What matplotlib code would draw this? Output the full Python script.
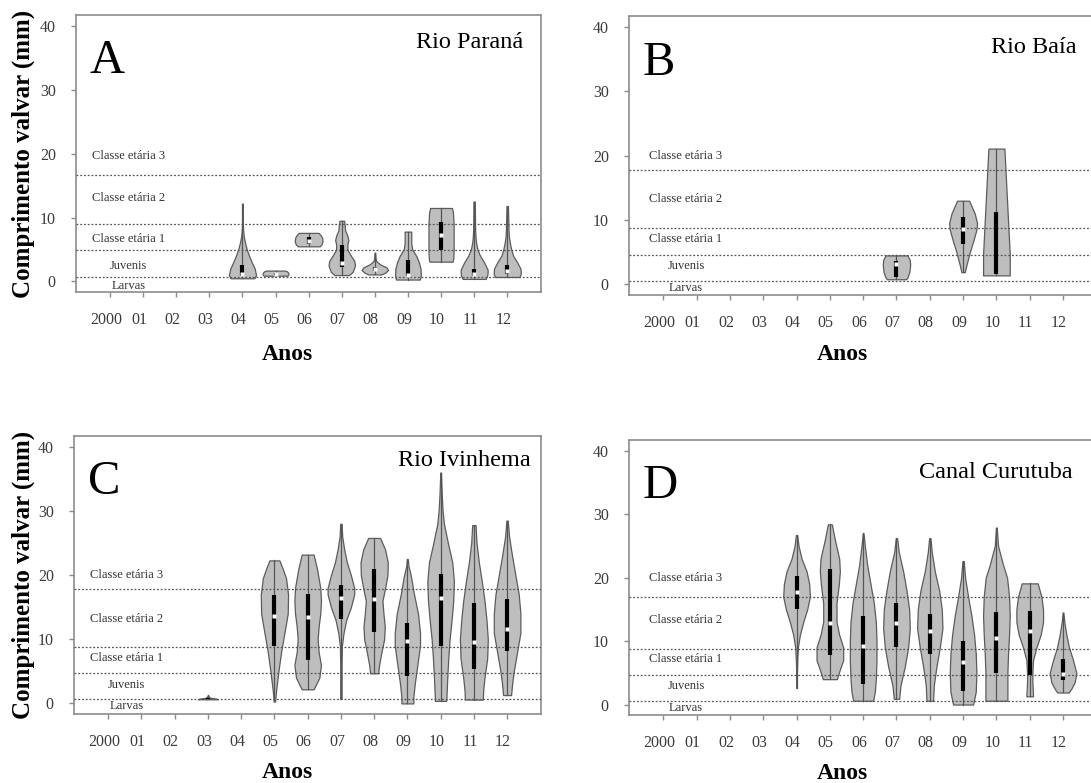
import numpy as np
import matplotlib
matplotlib.use('Agg')
import matplotlib.pyplot as plt
from matplotlib.transforms import ScaledTranslation

plt.rcParams['font.family'] = ['Liberation Serif', 'DejaVu Serif']

# ---- data ----
year_labels = ['2000', '01', '02', '03', '04', '05', '06', '07', '08', '09', '10', '11', '12']
class_names = ['Larvas', 'Juvenis', 'Classe etária 1', 'Classe etária 2', 'Classe etária 3']

# A - Rio Paraná
A_years = [4, 5, 6, 7, 8, 9, 10, 11, 12]
A_q1 = [0.9, 1.05, 5.9, 2.3, 1.6, 0.9, 5.0, 0.8, 1.2]
A_med = [1.2, 1.2, 6.4, 2.9, 1.9, 1.0, 7.3, 1.2, 1.7]
A_q3 = [2.5, 1.4, 7.0, 5.7, 2.3, 3.3, 9.3, 2.0, 2.5]
A_ys = [
    [0.5, 1, 2, 3, 4, 5, 6, 7, 8, 9, 10, 12.2],
    [0.9, 1.1, 1.4, 1.6, 1.7],
    [5.5, 5.8, 6.3, 6.8, 7.2, 7.6],
    [1.0, 1.5, 2.5, 3.2, 4.0, 5.0, 5.8, 6.5, 7.3, 8.0, 8.8, 9.5],
    [1.1, 1.4, 1.8, 2.2, 2.7, 3.2, 3.7, 4.5],
    [0.3, 1, 2, 3, 4, 5, 6, 7, 7.8],
    [3.1, 3.6, 5, 7, 9, 10.8, 11.5],
    [0.4, 1, 1.8, 3, 4, 5, 6, 7, 8, 10, 12.5],
    [0.7, 1.2, 2, 3, 4, 5, 6, 7, 8, 10, 11.8],
]
A_hw = [
    [0.36, 0.41, 0.37, 0.28, 0.2, 0.13, 0.08, 0.04, 0.02, 0.012, 0.008, 0.006],
    [0.36, 0.39, 0.38, 0.34, 0.28],
    [0.33, 0.39, 0.42, 0.41, 0.37, 0.3],
    [0.22, 0.33, 0.4, 0.38, 0.28, 0.17, 0.17, 0.2, 0.16, 0.1, 0.09, 0.07],
    [0.2, 0.32, 0.4, 0.35, 0.15, 0.04, 0.02, 0.01],
    [0.36, 0.39, 0.38, 0.33, 0.25, 0.13, 0.1, 0.1, 0.1],
    [0.35, 0.37, 0.38, 0.38, 0.38, 0.36, 0.33],
    [0.35, 0.4, 0.41, 0.3, 0.18, 0.1, 0.06, 0.04, 0.03, 0.025, 0.02],
    [0.37, 0.41, 0.4, 0.3, 0.18, 0.12, 0.08, 0.05, 0.04, 0.03, 0.02],
]
A_lines = [0.7, 4.9, 9.05, 16.6]
A_label_y = [-0.7, 2.4, 6.6, 13.0, 19.7]

# B - Rio Baía
B_years = [7, 9, 10]
B_q1 = [1.1, 6.3, 1.65]
B_med = [3.2, 8.6, np.nan]
B_q3 = [3.6, 10.4, 11.2]
B_ys = [
    [0.8, 1.2, 2.0, 3.0, 3.8, 4.5],
    [1.9, 3, 5, 7, 8.5, 9.5, 11, 12.2, 13],
    [1.4, 4.7, 21.1],
]
B_hw = [
    [0.29, 0.34, 0.39, 0.41, 0.4, 0.33],
    [0.05, 0.1, 0.2, 0.32, 0.4, 0.42, 0.35, 0.25, 0.18],
    [0.4, 0.4, 0.24],
]
B_lines = [0.6, 4.6, 8.7, 17.7]
B_label_y = [-0.5, 2.8, 7.0, 13.2, 20.0]

# C - Rio Ivinhema
C_years = [3, 5, 6, 7, 8, 9, 10, 11, 12]
C_q1 = [0.7, 9.0, 6.7, 13.2, 11.1, 4.2, 9.0, 5.4, 8.1]
C_med = [np.nan, 13.7, 13.5, 16.5, 16.3, 9.8, 16.5, 9.5, 11.6]
C_q3 = [0.9, 16.9, 17.1, 18.4, 20.9, 12.5, 20.2, 15.7, 16.3]
C_ys = [
    [0.65, 0.75, 0.85, 1.0, 1.25],
    [0.3, 2, 5, 8, 11, 14, 17, 19.5, 21, 22.3],
    [2.2, 4, 6, 8, 10, 12, 14, 16, 18, 21, 23.2],
    [0.7, 3, 6, 9, 11, 13, 15, 17, 18, 20, 22, 24, 26, 28],
    [4.7, 6, 8, 10, 12, 14, 16, 18, 20, 22, 24, 25.8],
    [0, 1, 3, 6, 9, 11, 14, 17, 20, 21.5, 22.5],
    [0.4, 4, 7, 10, 13, 16, 19, 22, 25, 28, 30, 33, 36],
    [0.6, 2, 4, 7, 10, 13, 16, 19, 22, 25, 27.8],
    [1.3, 3, 5, 8, 11, 14, 17, 20, 23, 26, 28.5],
]
C_hw = [
    [0.3, 0.25, 0.1, 0.03, 0.01],
    [0.02, 0.05, 0.12, 0.2, 0.3, 0.4, 0.41, 0.35, 0.25, 0.15],
    [0.18, 0.35, 0.4, 0.33, 0.3, 0.33, 0.38, 0.4, 0.38, 0.28, 0.18],
    [0.02, 0.02, 0.02, 0.03, 0.08, 0.16, 0.3, 0.4, 0.4, 0.3, 0.18, 0.1, 0.04, 0.02],
    [0.12, 0.15, 0.22, 0.3, 0.32, 0.28, 0.25, 0.33, 0.4, 0.41, 0.33, 0.18],
    [0.18, 0.18, 0.22, 0.3, 0.38, 0.38, 0.32, 0.2, 0.1, 0.03, 0.015],
    [0.17, 0.2, 0.23, 0.27, 0.33, 0.38, 0.4, 0.35, 0.22, 0.1, 0.06, 0.03, 0.01],
    [0.27, 0.28, 0.32, 0.4, 0.42, 0.38, 0.32, 0.24, 0.15, 0.08, 0.05],
    [0.12, 0.15, 0.2, 0.3, 0.4, 0.4, 0.35, 0.25, 0.15, 0.06, 0.02],
]
C_lines = [0.7, 4.75, 8.75, 17.8]
C_label_y = [-0.4, 2.95, 7.1, 13.2, 20.1]

# D - Canal Curutuba
D_years = [4, 5, 6, 7, 8, 9, 10, 11, 12]
D_q1 = [15.0, 7.8, 3.3, 9.0, 7.9, 2.2, 4.9, 4.7, 3.9]
D_med = [17.8, 12.9, 9.3, 12.9, 11.6, 6.7, 10.5, 11.6, 4.8]
D_q3 = [20.3, 21.4, 14.0, 16.0, 14.3, 10.0, 14.6, 14.7, 7.2]
D_ys = [
    [2.6, 5, 7, 9, 11, 13, 15, 17, 19, 21, 23, 25, 26.7],
    [4, 5.5, 7, 9, 11, 13, 16, 19, 21, 23, 26, 28.4],
    [0.6, 2, 4, 7, 10, 13, 16, 19, 22, 25, 27],
    [0.9, 3, 6, 9, 12, 15, 18, 21, 24, 26.2],
    [0.6, 3, 6, 9, 12, 15, 18, 21, 24, 26.2],
    [0, 2, 5, 8, 11, 14, 17, 20, 22.6],
    [0.6, 2, 5, 8, 11, 14, 17, 20, 22, 25, 27.9],
    [1.3, 3.5, 5, 7, 9, 11, 13, 15, 17, 19.1],
    [1.9, 2.5, 3.5, 5, 7, 9, 11, 13, 14.5],
]
D_hw = [
    [0.005, 0.01, 0.02, 0.04, 0.1, 0.2, 0.32, 0.4, 0.38, 0.3, 0.15, 0.06, 0.02],
    [0.21, 0.3, 0.4, 0.4, 0.28, 0.2, 0.2, 0.27, 0.3, 0.28, 0.15, 0.06],
    [0.3, 0.35, 0.38, 0.4, 0.4, 0.38, 0.32, 0.22, 0.12, 0.05, 0.01],
    [0.08, 0.12, 0.25, 0.35, 0.4, 0.38, 0.3, 0.2, 0.07, 0.02],
    [0.1, 0.12, 0.2, 0.3, 0.38, 0.36, 0.28, 0.15, 0.06, 0.02],
    [0.3, 0.38, 0.4, 0.38, 0.33, 0.25, 0.15, 0.06, 0.02],
    [0.33, 0.33, 0.33, 0.35, 0.38, 0.4, 0.38, 0.32, 0.2, 0.05, 0.01],
    [0.1, 0.08, 0.08, 0.1, 0.2, 0.33, 0.4, 0.4, 0.35, 0.24],
    [0.17, 0.25, 0.35, 0.4, 0.3, 0.18, 0.1, 0.04, 0.01],
]
D_lines = [0.55, 4.6, 8.7, 16.9]
D_label_y = [-0.5, 3.0, 7.1, 13.3, 20.0]

W, H = 1091, 783
fig = plt.figure(figsize=(W / 100, H / 100), dpi=100)


def panel(rect, letter, river, river_xy, years, q1, med, q3, ys_list, hw_list,
          lines, label_y, label_x):
    ax = fig.add_axes(rect)
    ax.set_xlim(-1.03, 13.02)
    ax.set_ylim(-1.65, 41.7)

    for yr, ys, hw, a, m, b in zip(years, ys_list, hw_list, q1, med, q3):
        ys = np.array(ys)
        hw = np.array(hw)
        ax.fill_betweenx(ys, yr - hw, yr + hw, facecolor='#bebebe',
                         edgecolor='#5c5c5c', lw=0.9, zorder=2)
        ax.plot([yr, yr], [ys.min(), ys.max()], color='#555555', lw=0.9, zorder=3)
        ax.plot([yr, yr], [a, b], color='black', lw=3, solid_capstyle='butt', zorder=5)
        if not np.isnan(m):
            ax.plot(yr, m, 's', color='white', ms=2.6, mec='none', zorder=6)

    for v in lines:
        ax.axhline(v, color='#555555', lw=0.9, ls=(0, (1.5, 1.5)), zorder=4)

    for name, y in zip(class_names, label_y):
        ax.text(label_x, y, name, ha='center', va='center', fontsize=9,
                color='#333333')

    ax.text(0.03, 0.79, letter, transform=ax.transAxes, fontsize=35,
            ha='left', va='baseline')
    ax.text(river_xy[0], river_xy[1], river, transform=ax.transAxes,
            fontsize=17.5, ha='right', va='baseline')

    ax.set_xticks(range(13))
    ax.set_xticklabels(year_labels)
    ax.set_yticks([0, 10, 20, 30, 40])
    for s in ax.spines.values():
        s.set_color('#8c8c8c')
        s.set_linewidth(1.2)
    ax.tick_params(axis='both', color='#8c8c8c', length=3.5, width=1,
                   labelcolor='#3a3a3a', labelsize=11.5)
    ax.tick_params(axis='x', pad=11)
    ax.tick_params(axis='y', pad=11)
    shift = ScaledTranslation(-4 / 100, 0, fig.dpi_scale_trans)
    for lab in ax.get_xticklabels():
        lab.set_transform(lab.get_transform() + shift)
    return ax


panel([76 / W, 1 - 292 / H, 465 / W, 277 / H], 'A', 'Rio Paraná', (0.961, 0.882),
      A_years, A_q1, A_med, A_q3, A_ys, A_hw, A_lines, A_label_y, 0.55)
panel([629 / W, 1 - 295 / H, 468 / W, 279 / H], 'B', 'Rio Baía', (0.957, 0.866),
      B_years, B_q1, B_med, B_q3, B_ys, B_hw, B_lines, B_label_y, 0.68)
panel([74 / W, 1 - 714 / H, 467 / W, 278 / H], 'C', 'Rio Ivinhema', (0.978, 0.893),
      C_years, C_q1, C_med, C_q3, C_ys, C_hw, C_lines, C_label_y, 0.55)
panel([629 / W, 1 - 715 / H, 468 / W, 275 / H], 'D', 'Canal Curutuba', (0.947, 0.86),
      D_years, D_q1, D_med, D_q3, D_ys, D_hw, D_lines, D_label_y, 0.68)

for yc in [153.5, 575]:
    fig.text(23.5 / W, 1 - yc / H, 'Comprimento valvar (mm)', rotation=90,
             ha='center', va='center', fontsize=18, fontweight='bold')
for xc, yc in [(287, 354), (842, 354), (287, 772.5), (842, 773.5)]:
    fig.text(xc / W, 1 - yc / H, 'Anos', ha='center', va='center',
             fontsize=17, fontweight='bold')

fig.savefig('out.png', dpi=100)
